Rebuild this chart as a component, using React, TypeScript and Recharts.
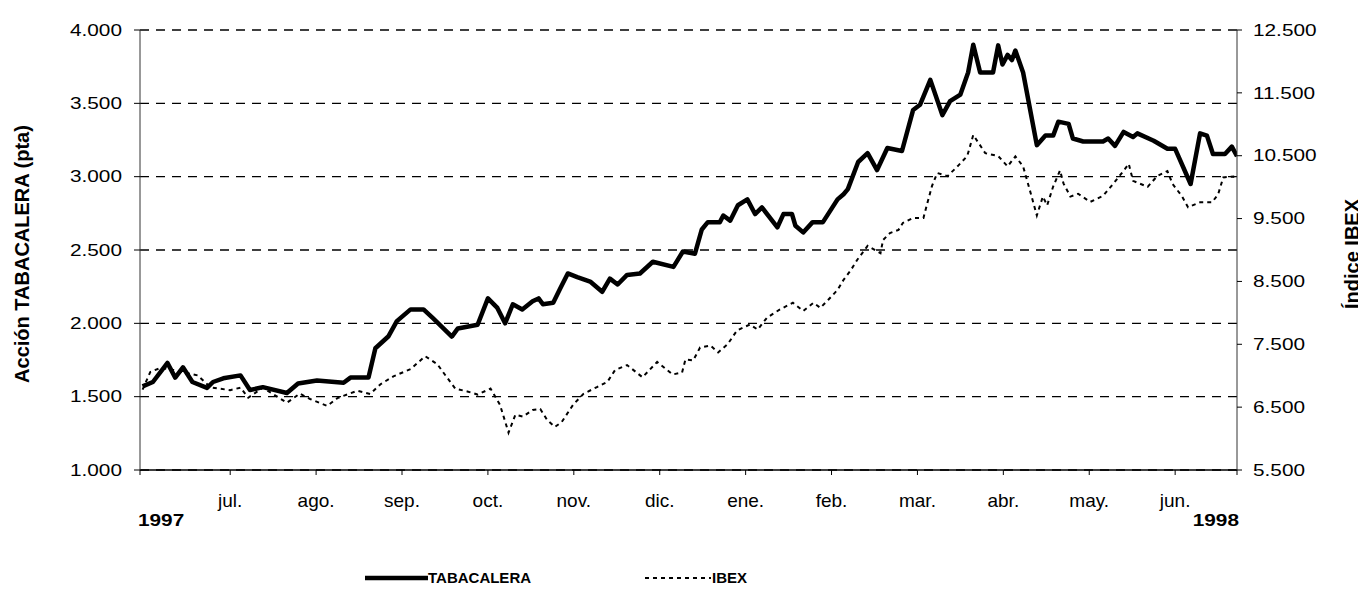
import React from 'react';
import { LineChart, Line, XAxis, YAxis, CartesianGrid } from 'recharts';

// eje X en meses: 0 = 1 jul. 1997 ... 11 = 1 jun. 1998
const meses = ['jul.', 'ago.', 'sep.', 'oct.', 'nov.', 'dic.', 'ene.', 'feb.', 'mar.', 'abr.', 'may.', 'jun.'];
const ticksMes = [-1.05, 0, 1, 2, 3, 4, 5, 6, 7, 8, 9, 10, 11, 11.72];
const ticksTab = [1000, 1500, 2000, 2500, 3000, 3500, 4000];
const ticksIbex = [5500, 6500, 7500, 8500, 9500, 10500, 11500, 12500];

const tabX = [
  -1.02, -0.9, -0.73, -0.64, -0.55, -0.44, -0.27, -0.2, -0.08, 0.12, 0.23, 0.38, 0.66, 0.79, 1.01, 1.32, 1.4, 1.61,
  1.69, 1.84, 1.94, 2.1, 2.25, 2.36, 2.58, 2.65, 2.88, 3.0, 3.11, 3.2, 3.29, 3.4, 3.52, 3.59, 3.64, 3.76, 3.84, 3.93,
  4.04, 4.19, 4.33, 4.42, 4.51, 4.62, 4.77, 4.92, 5.16, 5.27, 5.41, 5.49, 5.56, 5.7, 5.74, 5.82, 5.91, 6.02, 6.11,
  6.19, 6.37, 6.44, 6.54, 6.58, 6.67, 6.78, 6.9, 7.07, 7.14, 7.19, 7.31, 7.42, 7.53, 7.65, 7.82, 7.95, 8.03, 8.15,
  8.29, 8.38, 8.5, 8.59, 8.65, 8.73, 8.88, 8.94, 8.99, 9.05, 9.1, 9.14, 9.23, 9.39, 9.49, 9.58, 9.64, 9.76, 9.81,
  9.93, 10.16, 10.22, 10.3, 10.4, 10.51, 10.56, 10.75, 10.91, 11.0, 11.18, 11.29, 11.37, 11.44, 11.58, 11.66, 11.72,
];
const tabacalera = [
  1570, 1600, 1730, 1630, 1700, 1600, 1560, 1600, 1625, 1645, 1545, 1565, 1525, 1590, 1610, 1595, 1630, 1630,
  1830, 1910, 2015, 2095, 2095, 2035, 1910, 1965, 1990, 2170, 2105, 2000, 2130, 2095, 2150, 2170, 2130, 2140, 2235, 2340,
  2315, 2285, 2215, 2305, 2265, 2330, 2340, 2420, 2385, 2490, 2475, 2640, 2690, 2690, 2735, 2700, 2805, 2845, 2745,
  2790, 2655, 2745, 2745, 2665, 2620, 2690, 2690, 2845, 2880, 2915, 3100, 3160, 3045, 3195, 3175, 3455, 3490, 3660,
  3420, 3515, 3560, 3710, 3900, 3710, 3710, 3895, 3765, 3830, 3795, 3860, 3710, 3215, 3280, 3280, 3375, 3360, 3260,
  3240, 3240, 3260, 3210, 3305, 3270, 3295, 3245, 3190, 3190, 2950, 3295, 3280, 3155, 3155, 3205, 3140,
];

const ibexX = [
  -1.02, -0.93, -0.81, -0.66, -0.38, -0.23, 0.0, 0.12, 0.21, 0.38, 0.66, 0.81, 0.93, 1.13, 1.25, 1.48, 1.63, 1.75,
  1.9, 2.1, 2.27, 2.41, 2.53, 2.62, 2.76, 2.88, 3.03, 3.14, 3.24, 3.32, 3.41, 3.52, 3.61, 3.69, 3.78, 3.86, 3.99,
  4.11, 4.27, 4.39, 4.48, 4.62, 4.8, 4.97, 5.15, 5.26, 5.3, 5.39, 5.47, 5.59, 5.68, 5.79, 5.9, 6.05, 6.14, 6.25,
  6.4, 6.55, 6.67, 6.79, 6.87, 6.96, 7.07, 7.14, 7.22, 7.3, 7.42, 7.57, 7.6, 7.68, 7.78, 7.83, 7.95, 8.07, 8.11,
  8.17, 8.23, 8.35, 8.47, 8.58, 8.65, 8.79, 8.94, 9.05, 9.14, 9.23, 9.31, 9.39, 9.46, 9.51, 9.58, 9.66, 9.7, 9.78,
  9.87, 10.01, 10.16, 10.28, 10.4, 10.46, 10.51, 10.68, 10.79, 10.91, 10.97, 11.08, 11.15, 11.29, 11.43, 11.5,
  11.56, 11.68, 11.72,
];
const ibex = [
  6780, 7060, 7125, 7090, 7005, 6815, 6770, 6810, 6650, 6810, 6570, 6715, 6630, 6520, 6645, 6760, 6710, 6865,
  6990, 7105, 7310, 7185, 6960, 6795, 6750, 6700, 6795, 6540, 6095, 6380, 6350, 6455, 6470, 6295, 6185, 6265, 6535,
  6710, 6820, 6900, 7090, 7170, 6975, 7220, 7020, 7050, 7260, 7245, 7450, 7480, 7370, 7500, 7720, 7815, 7735, 7925,
  8055, 8160, 8030, 8160, 8080, 8205, 8365, 8525, 8670, 8845, 9065, 8950, 9160, 9270, 9320, 9430, 9510, 9510, 9720,
  10020, 10225, 10175, 10335, 10495, 10830, 10540, 10495, 10330, 10490, 10330, 9945, 9550, 9850, 9710, 10010, 10265, 10060, 9850,
  9895, 9765, 9860, 10055, 10260, 10370, 10100, 10005, 10175, 10255, 10050, 9855, 9680, 9760, 9760, 9885,
  10155, 10170, 10125,
];

const tabData = tabX.map((x, i) => ({ x, v: tabacalera[i] }));
const ibexData = ibexX.map((x, i) => ({ x, v: ibex[i] }));

const FONT = '"Liberation Sans", Arial, sans-serif';
const fmt = (v: number) => String(v).replace(/\B(?=(\d{3})+(?!\d))/g, '.');
const SX = 1.3; // las cifras del original salen más anchas que altas

const MonthTick = (props: any) => {
  const { x, y, payload } = props;
  const v = payload.value;
  if (v < 0 || v > 11.5) {
    const left = v < 0;
    return (
      <g transform={`translate(${left ? x - 2 : x + 2},${y + 49})`}>
        <text transform={`scale(${SX},1)`} textAnchor={left ? 'start' : 'end'} fontSize={16} fontWeight="bold"
          fill="#000" fontFamily={FONT}>{left ? '1997' : '1998'}</text>
      </g>
    );
  }
  return <text x={x} y={y + 30} textAnchor="middle" fontSize={19} fill="#000" fontFamily={FONT}>{meses[v]}</text>;
};

const NumTick = (props: any) => {
  const { x, y, payload, textAnchor } = props;
  return (
    <g transform={`translate(${x},${y})`}>
      <text transform={`scale(${SX},1)`} textAnchor={textAnchor} dy="0.36em" fontSize={16} fill="#000"
        fontFamily={FONT}>{fmt(payload.value)}</text>
    </g>
  );
};

const LeftTitle = () => (
  <text x={14} y={246} transform="rotate(-90 14 246)" textAnchor="middle" dominantBaseline="central"
    fontSize={20} fontWeight="bold" fill="#000" fontFamily={FONT}>Acción TABACALERA (pta)</text>
);
const RightTitle = () => (
  <text x={1344} y={246} transform="rotate(-90 1344 246)" textAnchor="middle" dominantBaseline="central"
    fontSize={20} fontWeight="bold" fill="#000" fontFamily={FONT}>Índice IBEX</text>
);

export default function App() {
  return (
    <div style={{ position: 'relative', width: 1358, height: 579, fontFamily: FONT, background: '#fff' }}>
      <LineChart width={1358} height={579} margin={{ top: 22, right: 0, bottom: 57, left: 0 }}>
        <CartesianGrid yAxisId="left" vertical={false} stroke="#000" strokeWidth={1.3} strokeDasharray="9 7" />
        <XAxis type="number" dataKey="x" domain={[-1.05, 11.72]} ticks={ticksMes} interval={0}
          allowDataOverflow height={60} tick={<MonthTick />} tickSize={5}
          axisLine={{ stroke: '#000', strokeWidth: 1.5 }} tickLine={{ stroke: '#000' }} />
        <YAxis yAxisId="left" domain={[1000, 4000]} ticks={ticksTab} width={132} tickSize={6} tickMargin={12}
          tick={<NumTick />} axisLine={{ stroke: '#333' }} tickLine={{ stroke: '#000' }} label={<LeftTitle />} />
        <YAxis yAxisId="right" orientation="right" domain={[5500, 12500]} ticks={ticksIbex} width={129}
          tickSize={5} tickMargin={11} tick={<NumTick />}
          axisLine={{ stroke: '#333' }} tickLine={{ stroke: '#000' }} label={<RightTitle />} />
        <Line yAxisId="right" data={ibexData} dataKey="v" name="IBEX" type="linear" stroke="#000" strokeWidth={2}
          strokeDasharray="4 4" dot={false} isAnimationActive={false} />
        <Line yAxisId="left" data={tabData} dataKey="v" name="TABACALERA" type="linear" stroke="#000" strokeWidth={4.5}
          strokeLinejoin="round" dot={false} isAnimationActive={false} />
      </LineChart>
      <div style={{ position: 'absolute', left: 0, top: 560, width: 1350, height: 20, fontSize: 15, fontWeight: 'bold' }}>
        <svg width={70} height={20} style={{ position: 'absolute', left: 355, top: 0 }}>
          <line x1={2} y1={10} x2={65} y2={10} stroke="#000" strokeWidth={4.5} />
        </svg>
        <span style={{ position: 'absolute', left: 420, top: 1 }}>TABACALERA</span>
        <svg width={70} height={20} style={{ position: 'absolute', left: 635, top: 0 }}>
          <line x1={2} y1={10} x2={68} y2={10} stroke="#000" strokeWidth={2} strokeDasharray="4 4" />
        </svg>
        <span style={{ position: 'absolute', left: 704, top: 1 }}>IBEX</span>
      </div>
    </div>
  );
}
